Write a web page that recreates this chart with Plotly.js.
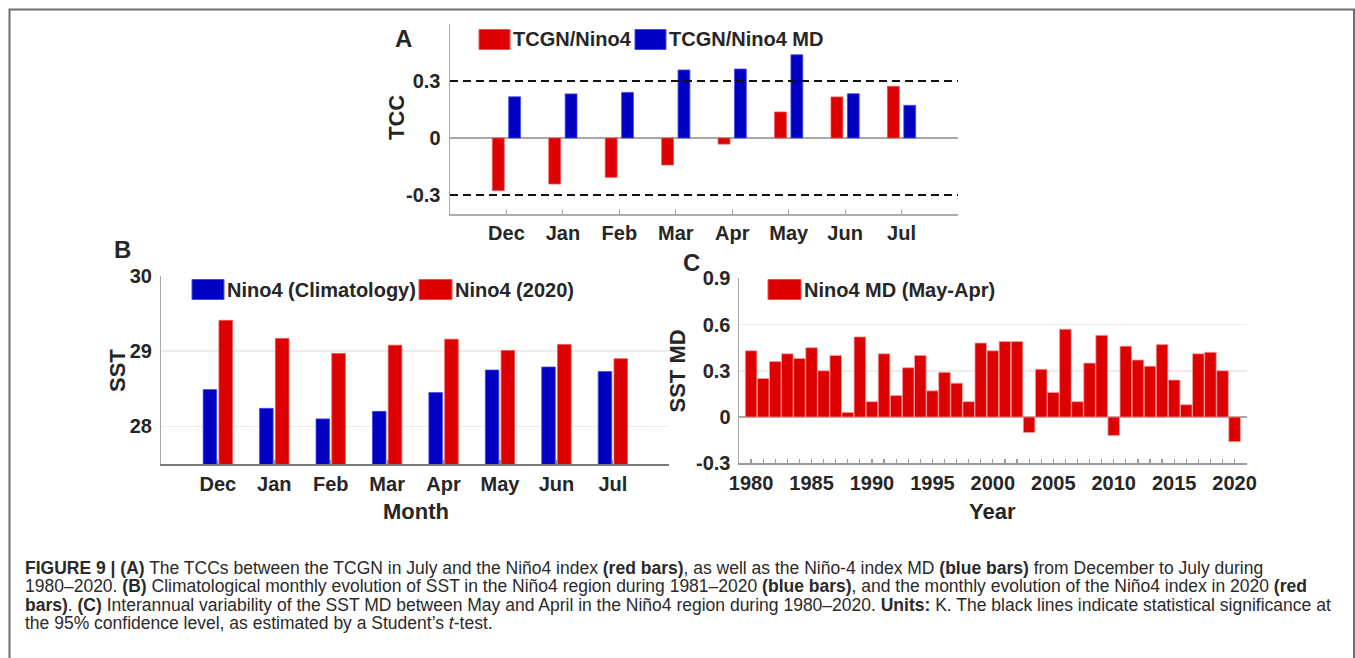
<!DOCTYPE html>
<html>
<head>
<meta charset="utf-8">
<script src="https://cdn.plot.ly/plotly-3.0.1.min.js"></script>
<style>
  html, body { margin: 0; padding: 0; background: #ffffff; }
  #chart { width: 1355px; height: 658px; }
</style>
</head>
<body>
<div id="chart"></div>
<script>
// ---------------- DATA ----------------
const months = ['Dec', 'Jan', 'Feb', 'Mar', 'Apr', 'May', 'Jun', 'Jul'];
// Panel A: TCC between TCGN (July) and Nino4 index / Nino4 MD
const tccNino4   = [-0.277, -0.242, -0.207, -0.142, -0.032, 0.137, 0.216, 0.272];
const tccNino4MD = [0.217, 0.232, 0.240, 0.358, 0.363, 0.438, 0.233, 0.172];
const sigLevels  = [0.3, -0.3];
const tccTicks   = [-0.3, 0, 0.3];
const tccTickText = ['-0.3', '0', '0.3'];
// Panel B: Nino4 SST
const sstClim = [28.49, 28.24, 28.10, 28.20, 28.45, 28.75, 28.79, 28.73];
const sst2020 = [29.41, 29.17, 28.97, 29.08, 29.16, 29.01, 29.09, 28.90];
const sstTicks = [28, 29, 30];
// Panel C: Nino4 SST MD (May-Apr)
const years = [1980, 1981, 1982, 1983, 1984, 1985, 1986, 1987, 1988, 1989,
               1990, 1991, 1992, 1993, 1994, 1995, 1996, 1997, 1998, 1999,
               2000, 2001, 2002, 2003, 2004, 2005, 2006, 2007, 2008, 2009,
               2010, 2011, 2012, 2013, 2014, 2015, 2016, 2017, 2018, 2019, 2020];
const nino4MD = [0.43, 0.25, 0.36, 0.41, 0.38, 0.45, 0.30, 0.40, 0.03, 0.52,
                 0.10, 0.41, 0.14, 0.32, 0.40, 0.17, 0.29, 0.22, 0.10, 0.48,
                 0.43, 0.49, 0.49, -0.10, 0.31, 0.16, 0.57, 0.10, 0.35, 0.53,
                 -0.12, 0.46, 0.37, 0.33, 0.47, 0.24, 0.08, 0.41, 0.42, 0.30, -0.16];
const yearTickLabels = [1980, 1985, 1990, 1995, 2000, 2005, 2010, 2015, 2020];
const mdTicks = [-0.3, 0, 0.3, 0.6, 0.9];
const mdTickText = ['-0.3', '0', '0.3', '0.6', '0.9'];

const captionLines = [
  '<b>FIGURE 9 | (A)</b> The TCCs between the TCGN in July and the Niño4 index <b>(red bars)</b>, as well as the Niño-4 index MD <b>(blue bars)</b> from December to July during',
  '1980–2020. <b>(B)</b> Climatological monthly evolution of SST in the Niño4 region during 1981–2020 <b>(blue bars)</b>, and the monthly evolution of the Niño4 index in 2020 <b>(red</b>',
  '<b>bars)</b>. <b>(C)</b> Interannual variability of the SST MD between May and April in the Niño4 region during 1980–2020. <b>Units:</b> K. The black lines indicate statistical significance at',
  'the 95% confidence level, as estimated by a Student’s <i>t</i>-test.'
];

// ---------------- STYLE ----------------
const W = 1355, H = 658;
const px = x => x / W;
const py = y => 1 - y / H;
const RED = '#dc0000', BLUE = '#0000c4';
const FONT = 'Liberation Sans, Arial, Helvetica, sans-serif';
const TXT = '#262626';
const tickFont = { family: FONT, size: 20, color: TXT, weight: 'bold' };

const idx = months.map((m, i) => i);
const monthTickVals = [-1].concat(idx, [8]);
const monthTickText = [''].concat(months, ['']);

const yearTickVals = [1979].concat(years, [2021]);
const yearTickText = yearTickVals.map(y => yearTickLabels.indexOf(y) >= 0 ? String(y) : '');

const traces = [
  { type: 'bar', x: idx, y: tccNino4, xaxis: 'x', yaxis: 'y', width: 0.21, offset: -0.25,
    marker: { color: RED, line: { color: '#ee5050', width: 0.8 } }, name: 'TCGN/Nino4' },
  { type: 'bar', x: idx, y: tccNino4MD, xaxis: 'x', yaxis: 'y', width: 0.21, offset: 0.04,
    marker: { color: BLUE, line: { color: '#4a4ae0', width: 0.8 } }, name: 'TCGN/Nino4 MD' },
  { type: 'bar', x: idx, y: sstClim, xaxis: 'x2', yaxis: 'y2', width: 0.24, offset: -0.26,
    marker: { color: BLUE, line: { color: '#4a4ae0', width: 0.8 } }, name: 'Nino4 (Climatology)' },
  { type: 'bar', x: idx, y: sst2020, xaxis: 'x2', yaxis: 'y2', width: 0.24, offset: 0.02,
    marker: { color: RED, line: { color: '#ee5050', width: 0.8 } }, name: 'Nino4 (2020)' },
  { type: 'bar', x: years, y: nino4MD, xaxis: 'x3', yaxis: 'y3', width: 0.96,
    marker: { color: RED, line: { color: '#f6a0a0', width: 0.8 } }, name: 'Nino4 MD (May-Apr)' }
];

const shapes = [
  // figure frame
  { type: 'rect', xref: 'paper', yref: 'paper', x0: px(9.5), x1: px(1354), y0: py(700), y1: py(9.5),
    line: { color: '#6e6e6e', width: 2 }, fillcolor: 'rgba(0,0,0,0)', layer: 'below' }
];
sigLevels.forEach(v => shapes.push({
  type: 'line', xref: 'x domain', yref: 'y', x0: 0, x1: 1, y0: v, y1: v,
  line: { color: '#111', width: 2, dash: '8px,5px' }
}));

// custom legends (swatch rect + label)
function legendItem(x0, x1, y0, y1, color, label) {
  shapes.push({ type: 'rect', xref: 'paper', yref: 'paper', x0: px(x0), x1: px(x1), y0: py(y1), y1: py(y0),
    fillcolor: color, line: { color: color === RED ? '#ee5050' : '#4a4ae0', width: 1 } });
  return { xref: 'paper', yref: 'paper', x: px(x1 + 1), y: py((y0 + y1) / 2), xanchor: 'left', yanchor: 'middle',
    text: label, showarrow: false, font: { family: FONT, size: 20, color: TXT, weight: 'bold' } };
}

const annotations = [
  legendItem(479, 510, 29.5, 49.5, RED, 'TCGN/Nino4'),
  legendItem(635, 666, 29.5, 49.5, BLUE, 'TCGN/Nino4 MD'),
  legendItem(192, 224, 279.5, 299.5, BLUE, 'Nino4 (Climatology)'),
  legendItem(419, 452, 279.5, 299.5, RED, 'Nino4 (2020)'),
  legendItem(768, 801, 279.5, 299.5, RED, 'Nino4 MD (May-Apr)')
];

function label(text, x, y, size, angle) {
  annotations.push({ xref: 'paper', yref: 'paper', x: px(x), y: py(y), xanchor: 'center', yanchor: 'middle',
    text: text, showarrow: false, textangle: angle || 0,
    font: { family: FONT, size: size, color: TXT, weight: 'bold' } });
}
label('A', 403, 38, 24);
label('B', 122, 249, 24);
label('C', 691, 262.5, 24);
label('TCC', 396, 118, 22, -90);
label('SST', 117, 371, 22, -90);
label('SST MD', 677, 371.5, 22, -90);
label('Month', 416, 511.5, 22);
label('Year', 992.5, 511.5, 22);

const capY = [567.5, 586, 604.5, 623];
captionLines.forEach((t, i) => annotations.push({
  xref: 'paper', yref: 'paper', x: px(23), y: py(capY[i]), xanchor: 'left', yanchor: 'middle',
  text: t, showarrow: false, font: { family: FONT, size: 17.5, color: '#2a2a2a' }
}));

const baseX = {
  type: 'linear', showgrid: false, zeroline: false, showline: true, linewidth: 1.5,
  ticks: 'inside', ticklen: 5, tickwidth: 1.2, tickfont: tickFont, tickmode: 'array', fixedrange: true
};
const baseY = {
  type: 'linear', showline: true, linewidth: 1.5, ticks: '', tickfont: tickFont, tickmode: 'array', fixedrange: true
};

const layout = {
  width: W, height: H,
  margin: { l: 0, r: 0, t: 0, b: 0, pad: 0 },
  paper_bgcolor: '#ffffff', plot_bgcolor: 'rgba(0,0,0,0)',
  showlegend: false, barmode: 'overlay',
  font: { family: FONT, color: TXT },
  xaxis: Object.assign({}, baseX, {
    domain: [px(450), px(958)], anchor: 'y', range: [-1, 8],
    tickvals: monthTickVals, ticktext: monthTickText, linecolor: '#acacac', tickcolor: '#acacac',
    ticklabelstandoff: 0
  }),
  yaxis: Object.assign({}, baseY, {
    domain: [py(214), py(24)], anchor: 'x', range: [-0.4, 0.6],
    tickvals: tccTicks, ticktext: tccTickText, showgrid: false,
    zeroline: true, zerolinecolor: '#a8a8a8', zerolinewidth: 1.5, linecolor: '#acacac',
    ticklabelstandoff: 4
  }),
  xaxis2: Object.assign({}, baseX, {
    domain: [px(161.4), px(669.3)], anchor: 'y2', range: [-1, 8],
    tickvals: monthTickVals, ticktext: monthTickText, linecolor: '#7a7a7a', linewidth: 2,
    tickcolor: '#8a8a8a', ticklen: 4, ticklabelstandoff: 1
  }),
  yaxis2: Object.assign({}, baseY, {
    domain: [py(464), py(276)], anchor: 'x2', range: [27.5, 30],
    tickvals: sstTicks, ticktext: sstTicks.map(String), showgrid: true, gridcolor: '#ececec', gridwidth: 1.5,
    zeroline: false, linecolor: '#a8a8a8', ticklabelstandoff: 4
  }),
  xaxis3: Object.assign({}, baseX, {
    domain: [px(739), px(1246.7)], anchor: 'y3', range: [1979, 2021],
    tickvals: yearTickVals, ticktext: yearTickText, linecolor: '#9a9a9a', tickcolor: '#9a9a9a',
    ticklen: 4, ticklabelstandoff: 1
  }),
  yaxis3: Object.assign({}, baseY, {
    domain: [py(463.3), py(278.3)], anchor: 'x3', range: [-0.3, 0.9],
    tickvals: mdTicks, ticktext: mdTickText, showgrid: true, gridcolor: '#ececec', gridwidth: 1.5,
    zeroline: true, zerolinecolor: '#a8a8a8', zerolinewidth: 1.5, linecolor: '#a8a8a8',
    ticklabelstandoff: 3
  }),
  shapes: shapes,
  annotations: annotations
};

Plotly.newPlot('chart', traces, layout, { displayModeBar: false, staticPlot: true });
</script>
</body>
</html>
